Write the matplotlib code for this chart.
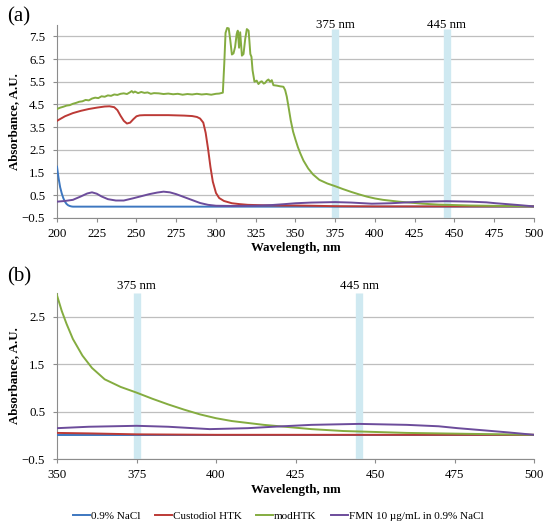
import matplotlib
matplotlib.use("Agg")
import matplotlib.pyplot as plt
import numpy as np

plt.rcParams['font.family'] = ['Liberation Serif', 'DejaVu Serif']

# ---------------- data ----------------
series_labels = ["0.9% NaCl", "Custodiol HTK", "modHTK", "FMN 10 \u00b5g/mL in 0.9% NaCl"]
series_colors = ["#3D77C0", "#BC3A36", "#84AC40", "#6C4C9B"]

nacl_wl = [200, 201, 202, 203, 204, 205, 206, 207, 208, 209, 210, 250, 300, 350, 400, 450, 500]
nacl_abs = [1.76, 1.25, 0.85, 0.58, 0.37, 0.22, 0.12, 0.06, 0.03, 0.01, 0.0, 0.0, 0.0, 0.0, 0.0, 0.0, 0.0]

htk_wl = [200, 205, 210, 215, 220, 225, 230, 233, 236, 238, 240, 242, 244, 246, 248, 250, 252, 255,
          260, 270, 280, 285, 288, 290, 292, 293.5, 295, 296.5, 298, 300, 302, 305, 310, 315, 320,
          330, 340, 350, 360, 375, 400, 450, 500]
htk_abs = [3.78, 3.98, 4.12, 4.22, 4.3, 4.36, 4.41, 4.42, 4.38, 4.25, 4.0, 3.78, 3.66, 3.7, 3.85, 3.98,
           4.02, 4.03, 4.03, 4.03, 4.01, 3.99, 3.95, 3.88, 3.7, 3.25, 2.55, 1.75, 1.1, 0.6, 0.38, 0.25,
           0.15, 0.11, 0.08, 0.06, 0.05, 0.05, 0.04, 0.02, 0.01, 0.01, 0.01]

mod_wl = [200, 202, 204, 206, 208, 210, 212, 214, 216, 218, 220, 222, 224, 226, 228, 230, 232, 234,
          236, 238, 240, 242, 244, 246, 247, 248, 249, 251, 253, 255, 257, 259, 261, 264, 267, 270,
          273, 276, 279, 282, 285, 288, 291, 294, 297, 300, 302,
          304.3, 305.2, 306, 307, 308, 309, 310, 311, 312, 313, 313.7, 314.5, 315.2, 316.3, 317.3,
          318.4, 319.4, 320.5, 321, 321.6, 322.3, 323, 324.2, 325.6, 326.7, 328, 328.8, 330, 330.9,
          332, 333, 334, 335.1, 336.1, 338.2, 340.3, 342.4, 343.5, 344.5, 345.6, 347, 348.5, 350,
          351.5, 353, 355, 358, 361, 365, 370, 375, 380, 385, 390, 395, 400, 405, 410, 415, 420,
          425, 430, 435, 440, 445, 450, 460, 470, 480, 490, 500]
mod_abs = [4.30, 4.36, 4.40, 4.45, 4.47, 4.53, 4.57, 4.62, 4.64, 4.70, 4.68, 4.76, 4.80, 4.78, 4.86,
           4.84, 4.90, 4.88, 4.94, 4.92, 4.97, 4.99, 4.96, 5.04, 5.09, 5.02, 5.07, 5.00, 5.05, 5.01,
           5.03, 4.97, 5.00, 4.99, 4.96, 4.98, 4.95, 4.97, 4.93, 4.96, 4.94, 4.97, 4.94, 4.96, 4.93,
           4.97, 4.98,
           5.02, 6.3, 7.65, 7.87, 7.85, 7.32, 6.7, 6.75, 7.03,
           7.6, 7.75, 7.0, 7.68, 6.65, 6.72, 7.4, 7.82, 7.75, 7.3, 6.72, 6.6, 6.0, 5.5, 5.55, 5.4,
           5.5, 5.52, 5.42, 5.45, 5.55, 5.6, 5.5, 5.57, 5.35, 5.33, 5.3, 5.28, 5.13, 4.85, 4.4, 3.8,
           3.3, 2.95, 2.62, 2.35, 2.03, 1.68, 1.42, 1.18, 1.02, 0.9, 0.77, 0.65, 0.54, 0.44, 0.36,
           0.30, 0.26, 0.22, 0.19, 0.16, 0.13, 0.11, 0.09, 0.08, 0.07, 0.05, 0.04, 0.03, 0.02, 0.01]

fmn_wl = [200, 205, 210, 215, 219, 222, 225, 228, 232, 237, 242, 248, 253, 258, 263, 267, 271, 275,
          280, 285, 290, 295, 300, 310, 325, 335, 343, 350, 360, 375, 385, 398, 410, 418, 430, 445,
          460, 470, 476, 485, 492, 500]
fmn_abs = [0.22, 0.25, 0.3, 0.45, 0.58, 0.63, 0.57, 0.45, 0.33, 0.27, 0.27, 0.37, 0.46, 0.55, 0.62,
           0.66, 0.63, 0.55, 0.42, 0.29, 0.16, 0.08, 0.04, 0.03, 0.04, 0.07, 0.11, 0.15, 0.18, 0.2,
           0.18, 0.13, 0.15, 0.18, 0.22, 0.24, 0.22, 0.19, 0.15, 0.1, 0.06, 0.01]

band_wl = [375, 445]
band_labels = ["375 nm", "445 nm"]

xticks_a = [200, 225, 250, 275, 300, 325, 350, 375, 400, 425, 450, 475, 500]
yticks_a = [-0.5, 0.5, 1.5, 2.5, 3.5, 4.5, 5.5, 6.5, 7.5]
xticks_b = [350, 375, 400, 425, 450, 475, 500]
yticks_b = [-0.5, 0.5, 1.5, 2.5]

# ---------------- figure ----------------
W, H = 550, 527
fig = plt.figure(figsize=(W / 100, H / 100), dpi=100)

ax_a = fig.add_axes([57 / W, 1 - 218 / H, 477 / W, (218 - 25) / H])
ax_b = fig.add_axes([57 / W, 1 - 459 / H, 477 / W, (459 - 293) / H])

all_wl = [nacl_wl, htk_wl, mod_wl, fmn_wl]
all_abs = [nacl_abs, htk_abs, mod_abs, fmn_abs]

band_color = "#CFE9F1"
grid_color = "#BEBEBE"
spine_color = "#8C8C8C"


def style(ax, xlim, ylim, xt, yt, band_top, label_y):
    ax.set_xlim(*xlim)
    ax.set_ylim(*ylim)
    ax.set_xticks(xt)
    ax.set_yticks(yt)
    ax.set_yticklabels([("\u22120.5" if v < 0 else f"{v:.1f}") for v in yt])
    for s in ["top", "right"]:
        ax.spines[s].set_visible(False)
    for s in ["left", "bottom"]:
        ax.spines[s].set_color(spine_color)
        ax.spines[s].set_linewidth(0.8)
    ax.yaxis.grid(True, color=grid_color, linewidth=0.9, zorder=0)
    ax.set_axisbelow(True)
    ax.tick_params(axis="y", labelsize=9.3, color=spine_color, length=3, width=0.8,
                   direction="out", pad=5.5)
    ax.tick_params(axis="x", labelsize=9.3, color=spine_color, length=3, width=0.8,
                   direction="out", pad=4)
    ax.set_ylabel("Absorbance, A.U.", fontsize=9.3, fontweight="bold", labelpad=1)
    ax.set_xlabel("Wavelength, nm", fontsize=9.3, fontweight="bold", labelpad=2)
    for wl, lab in zip(band_wl, band_labels):
        ax.axvline(wl, ymax=band_top, color=band_color, linewidth=5.3, zorder=1,
                   solid_capstyle="butt")
        ax.text(wl, label_y, lab, transform=ax.get_xaxis_transform(), ha="center",
                va="center", fontsize=9.3, zorder=4)
    for xs, ys, c, lab in zip(all_wl, all_abs, series_colors, series_labels):
        ax.plot(xs, ys, color=c, linewidth=1.4, label=lab, zorder=3)


style(ax_a, (200, 500), (-0.5, 8.0), xticks_a, yticks_a, 0.98, 1.0)
style(ax_b, (350, 500), (-0.5, 3.0), xticks_b, yticks_b, 1.0, 1 + 7 / 166)

fig.text(7 / W, 1 - 17 / H, "(a)", fontsize=15, ha="left", va="center")
fig.text(7 / W, 1 - 277 / H, "(b)", fontsize=15, ha="left", va="center")

handles, labels = ax_a.get_legend_handles_labels()
fig.legend(handles, labels, loc="center", bbox_to_anchor=(278.5 / W, 1 - 516 / H), ncol=4,
           frameon=False, fontsize=8, handlelength=1.5, handletextpad=0.1,
           columnspacing=1.3, borderpad=0)

fig.savefig("out.png", dpi=100)
